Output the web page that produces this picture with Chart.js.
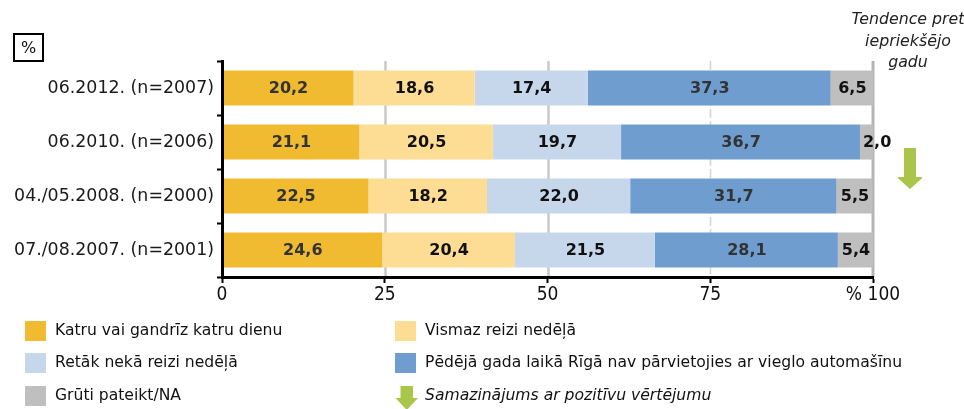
<!DOCTYPE html>
<html>
<head>
<meta charset="utf-8">
<script src="https://cdn.jsdelivr.net/npm/chart.js@4.4.1/dist/chart.umd.min.js"></script>
<style>
  html, body { margin:0; padding:0; background:#fff; width:964px; height:409px; overflow:hidden; }
  body { position:relative; font-family:"DejaVu Sans", sans-serif; color:#111; }
  #c { position:absolute; left:0; top:0; }
  .pctbox { position:absolute; left:13px; top:33px; width:27px; height:25px; border:2px solid #000;
            font-size:16px; line-height:25px; text-align:center; }
  .trend { position:absolute; left:838px; top:8px; width:140px; text-align:center; font-style:italic;
           font-size:15.8px; line-height:21.5px; color:#222; }
  .lg { position:absolute; font-size:15.6px; color:#111; white-space:nowrap; }
  .sw { position:absolute; width:21px; height:20px; }
  svg { position:absolute; }
</style>
</head>
<body>
<canvas id="c" width="964" height="409"></canvas>
<div class="pctbox">%</div>
<div class="trend">Tendence pret<br>iepriekšējo<br>gadu</div>
<svg style="left:898px;top:148px" width="24" height="41" viewBox="0 0 24 41">
  <polygon points="4,0 16,0 16,29 23.5,29 10,41 -3.5,29 4,29" transform="translate(2,0)" fill="#a9c64b"/>
</svg>
<div id="legend"></div>
<script>
const categories = ['06.2012. (n=2007)', '06.2010. (n=2006)', '04./05.2008. (n=2000)', '07./08.2007. (n=2001)'];
const seriesNames = [
  'Katru vai gandrīz katru dienu',
  'Vismaz reizi nedēļā',
  'Retāk nekā reizi nedēļā',
  'Pēdējā gada laikā Rīgā nav pārvietojies ar vieglo automašīnu',
  'Grūti pateikt/NA'
];
const daily     = [20.2, 21.1, 22.5, 24.6];
const weekly    = [18.6, 20.5, 18.2, 20.4];
const rarely    = [17.4, 19.7, 22.0, 21.5];
const noCar     = [37.3, 36.7, 31.7, 28.1];
const dontKnow  = [6.5, 2.0, 5.5, 5.4];
const xTickValues = [0, 25, 50, 75, 100];
const xTickLabels = ['0', '25', '50', '75', '% 100'];
const trendLegendText = 'Samazinājums ar pozitīvu vērtējumu';

const colors = ['#f0bb30', '#fddc93', '#c6d7ec', '#709dcf', '#bfbfbf'];
const labelColors = ['#333333', '#111111', '#111111', '#333333', '#111111'];
const seriesValues = [daily, weekly, rarely, noCar, dontKnow];

// Legend (HTML)
const legend = document.getElementById('legend');
const legendPos = [
  {x:25, y:321}, {x:395, y:321},
  {x:25, y:353}, {x:395, y:353},
  {x:25, y:386}
];
seriesNames.forEach((name, i) => {
  const p = legendPos[i];
  const sw = document.createElement('div');
  sw.className = 'sw';
  sw.style.left = p.x + 'px'; sw.style.top = p.y + 'px'; sw.style.background = colors[i];
  legend.appendChild(sw);
  const t = document.createElement('div');
  t.className = 'lg';
  t.style.left = (p.x + 30) + 'px'; t.style.top = (p.y + 0) + 'px';
  t.textContent = name;
  legend.appendChild(t);
});
{
  const svgNS = 'http://www.w3.org/2000/svg';
  const s = document.createElementNS(svgNS, 'svg');
  s.setAttribute('width', '24'); s.setAttribute('height', '24');
  s.style.left = '395px'; s.style.top = '386px';
  const poly = document.createElementNS(svgNS, 'polygon');
  poly.setAttribute('points', '5.5,0 18,0 18,12 23,12 11.75,24 0.5,12 5.5,12');
  poly.setAttribute('fill', '#a9c64b');
  s.appendChild(poly);
  legend.appendChild(s);
  const t = document.createElement('div');
  t.className = 'lg';
  t.style.left = '425px'; t.style.top = '386px'; t.style.fontStyle = 'italic';
  t.textContent = trendLegendText;
  legend.appendChild(t);
}

const gridPlugin = {
  id: 'customGrid',
  beforeDatasetsDraw(chart) {
    const ctx = chart.ctx, x = chart.scales.x, a = chart.chartArea;
    ctx.save();
    [25, 50].forEach(v => {
      const px = Math.round(x.getPixelForValue(v)) + 0.5;
      ctx.strokeStyle = '#c8c8c8'; ctx.lineWidth = 2.5; ctx.setLineDash([]);
      ctx.beginPath(); ctx.moveTo(px, a.top); ctx.lineTo(px, a.bottom); ctx.stroke();
    });
    {
      const px = Math.round(x.getPixelForValue(75)) + 0.5;
      ctx.strokeStyle = '#d4d4d4'; ctx.lineWidth = 1.5; ctx.setLineDash([9, 3]);
      ctx.beginPath(); ctx.moveTo(px, a.top); ctx.lineTo(px, a.bottom); ctx.stroke();
    }
    {
      const px = x.getPixelForValue(100);
      ctx.strokeStyle = '#b4b4b4'; ctx.lineWidth = 3; ctx.setLineDash([]);
      ctx.beginPath(); ctx.moveTo(px, a.top); ctx.lineTo(px, a.bottom); ctx.stroke();
    }
    ctx.restore();
  }
};

const labelPlugin = {
  id: 'valueLabels',
  afterDatasetsDraw(chart) {
    const ctx = chart.ctx;
    ctx.save();
    ctx.font = 'bold 16px "DejaVu Sans"';
    ctx.textBaseline = 'middle';
    chart.data.datasets.forEach((ds, di) => {
      const meta = chart.getDatasetMeta(di);
      meta.data.forEach((el, i) => {
        const txt = ds.data[i].toFixed(1).replace('.', ',');
        const w = ctx.measureText(txt).width;
        const left = Math.min(el.x, el.base), right = Math.max(el.x, el.base);
        ctx.fillStyle = labelColors[di];
        if (right - left < w + 4) {
          ctx.textAlign = 'left';
          ctx.fillText(txt, left + 3, el.y + 1);
        } else {
          ctx.textAlign = 'center';
          ctx.fillText(txt, (left + right) / 2 + 0.5, el.y + 1);
        }
      });
    });
    ctx.restore();
  }
};

new Chart(document.getElementById('c'), {
  type: 'bar',
  data: {
    labels: categories,
    datasets: seriesNames.map((n, i) => ({
      label: n,
      data: seriesValues[i],
      backgroundColor: colors[i],
      borderWidth: 0,
      barPercentage: 0.65,
      categoryPercentage: 1.0
    }))
  },
  options: {
    indexAxis: 'y',
    responsive: false,
    animation: false,
    devicePixelRatio: 1,
    layout: { padding: { left: 0, right: 91, top: 61, bottom: 0 } },
    plugins: { legend: { display: false }, tooltip: { enabled: false } },
    scales: {
      x: {
        stacked: true, min: 0, max: 100,
        afterFit(s) { s.height = 132; },
        afterBuildTicks(s) { s.ticks = xTickValues.map(v => ({ value: v })); },
        ticks: {
          callback: (v) => xTickLabels[xTickValues.indexOf(v)],
          font: { family: '"DejaVu Sans Condensed", "Liberation Sans Narrow", sans-serif', size: 19 },
          color: '#111', padding: 1, maxRotation: 0, autoSkip: false
        },
        grid: { drawOnChartArea: false, drawTicks: true, tickLength: 6, tickColor: '#000', tickWidth: 2 },
        border: { color: '#000', width: 3, z: 1 }
      },
      y: {
        stacked: true,
        afterFit(s) { s.width = 222; },
        ticks: { font: { family: '"DejaVu Sans"', size: 17.4 }, color: '#1a1a1a', padding: 3 },
        grid: { drawOnChartArea: false, offset: true, tickLength: 5, tickColor: '#000', tickWidth: 2 },
        border: { color: '#000', width: 3, z: 1 }
      }
    }
  },
  plugins: [gridPlugin, labelPlugin]
});
</script>
</body>
</html>
